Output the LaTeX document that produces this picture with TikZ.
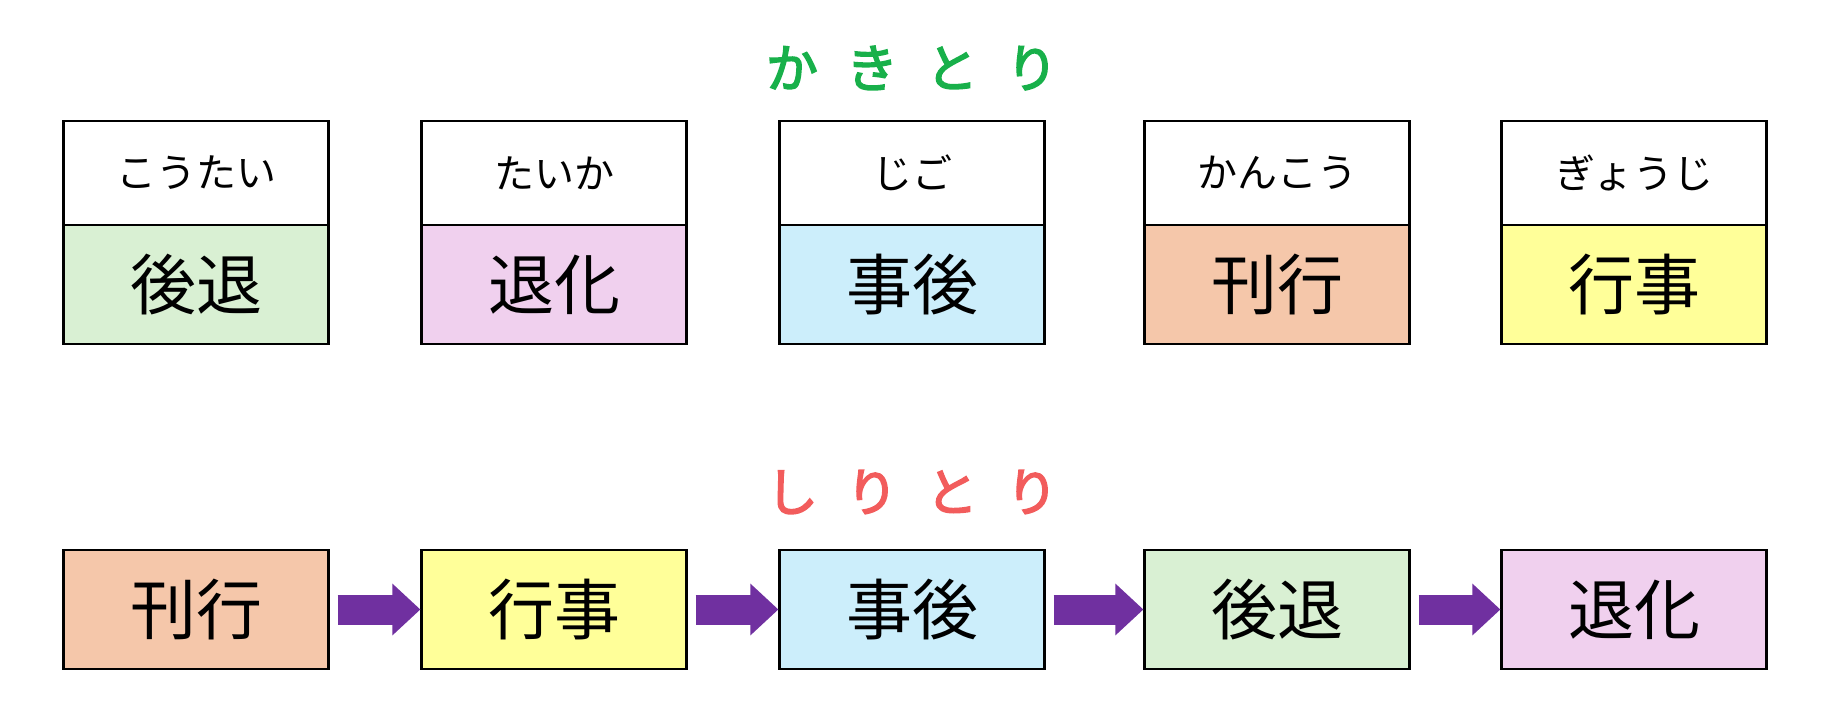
\documentclass[tikz,border=0pt]{standalone}
\usepackage{fontspec}
\newfontfamily\jp{Noto Sans CJK JP}
\newfontfamily\jpb[FakeBold=3]{Noto Sans CJK JP}
\definecolor{cg}{HTML}{D9F0D3}
\definecolor{cp}{HTML}{F0D0EE}
\definecolor{cb}{HTML}{CCEEFB}
\definecolor{co}{HTML}{F5C7AA}
\definecolor{cy}{HTML}{FFFF99}
\definecolor{tg}{HTML}{18B04A}
\definecolor{tr}{HTML}{F25C5C}
\definecolor{ar}{HTML}{7030A0}
\begin{document}
\begin{tikzpicture}[x=1pt,y=-1pt,
  kana/.style={draw=black,line width=2.2pt,fill=white,minimum width=265pt,minimum height=104pt,inner sep=0pt,font=\jp\fontsize{40}{40}\selectfont},
  kanji/.style={draw=black,line width=2.2pt,minimum width=265pt,minimum height=119pt,inner sep=0pt,font=\jp\fontsize{66}{66}\selectfont},
  title/.style={font=\jpb\fontsize{52}{52}\selectfont},
  arr/.style={ar,line width=30pt,-{Triangle[length=28pt,width=50pt]}}]
\useasboundingbox (0,0) rectangle (1822,703);
\usetikzlibrary{arrows.meta}
\node[title,text=tg] (t1) at (912,68) {か\hspace{28pt}き\hspace{28pt}と\hspace{28pt}り};
\foreach \i/\x/\k/\j/\c in {1/196/こうたい/後退/cg,2/554/たいか/退化/cp,3/912/じご/事後/cb,4/1277/かんこう/刊行/co,5/1634/ぎょうじ/行事/cy}{
  \node[kana] (a\i) at (\x,173) {\k};
  \node[kanji,fill=\c] (b\i) at (\x,284.5) {\j};
}
\node[title,text=tr] (t2) at (912,492) {し\hspace{28pt}り\hspace{28pt}と\hspace{28pt}り};
\foreach \i/\x/\j/\c in {1/196/刊行/co,2/554/行事/cy,3/912/事後/cb,4/1277/後退/cg,5/1634/退化/cp}{
  \node[kanji,fill=\c] (c\i) at (\x,609.5) {\j};
}
\foreach \a/\b in {1/2,2/3,3/4,4/5}{
  \draw[arr] ([xshift=8pt]c\a.east) -- (c\b.west);
}
\end{tikzpicture}
\end{document}
